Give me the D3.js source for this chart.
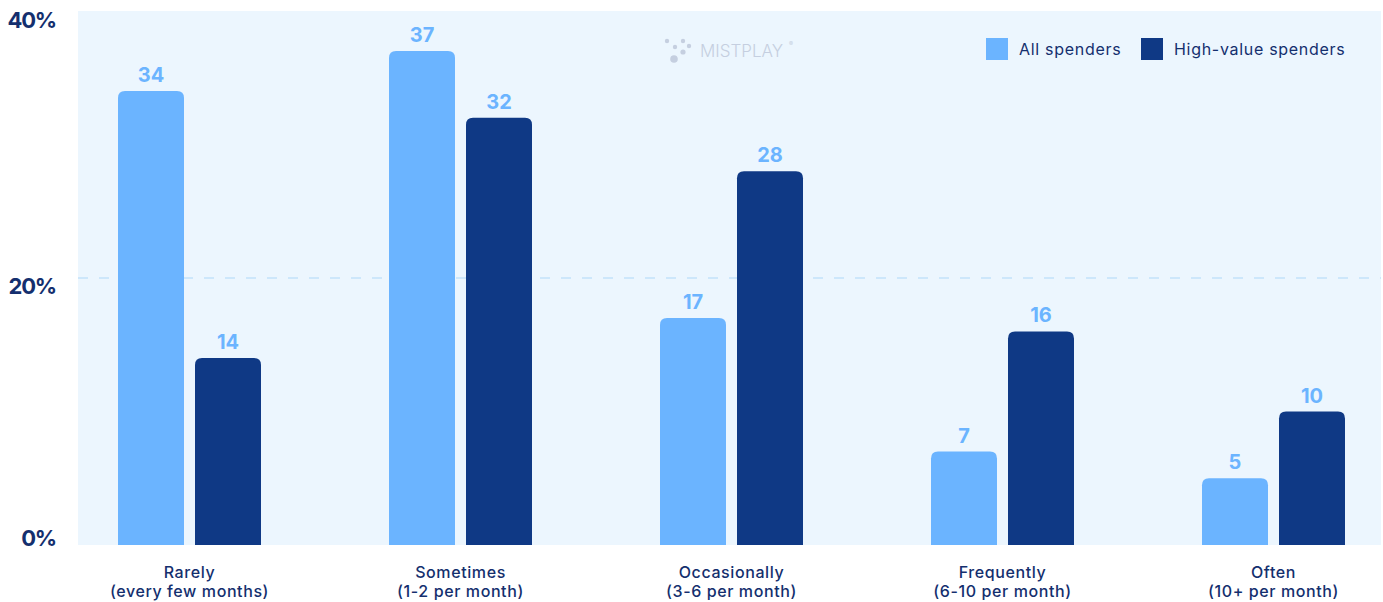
<!DOCTYPE html>
<html>
<head>
<meta charset="utf-8">
<script src="https://cdn.jsdelivr.net/npm/d3@7"></script>
<style>
  html, body { margin: 0; padding: 0; background: #ffffff; }
  svg { display: block; font-family: Inter, "Noto Sans", sans-serif; }
</style>
</head>
<body>
<svg id="chart" width="1383" height="602"></svg>
<script>
// Spending frequency categories (two-line labels)
const categories = ["Rarely", "Sometimes", "Occasionally", "Frequently", "Often"];
const categorySubLabels = ["(every few months)", "(1-2 per month)", "(3-6 per month)", "(6-10 per month)", "(10+ per month)"];

// Share of each group, percent
const seriesNames = ["All spenders", "High-value spenders"];
const allSpenders = [34, 37, 17, 7, 5];
const highValueSpenders = [14, 32, 28, 16, 10];

// Y axis ticks
const yTicks = [0, 20, 40];

const colors = { "All spenders": "#6bb4ff", "High-value spenders": "#0f3985" };
const navy = "#142f6e";

const svg = d3.select("#chart");
const plot = { left: 78, right: 1381, top: 11, bottom: 545 };

const y = d3.scaleLinear().domain([0, 40]).range([plot.bottom, plot.top]);
const x0 = d3.scalePoint().domain(categories).range([189.5, 1273.5]);
const x1 = d3.scaleBand().domain(seriesNames).range([-71.5, 71.5]).paddingInner(11 / 77).paddingOuter(0);

// Plot background
svg.append("rect")
  .attr("x", plot.left).attr("y", plot.top)
  .attr("width", plot.right - plot.left).attr("height", plot.bottom - plot.top)
  .attr("fill", "#ecf6fe");

// Dashed mid gridline
svg.append("g").selectAll("line")
  .data(yTicks.filter(t => t > 0 && t < 40))
  .join("line")
  .attr("x1", plot.left).attr("x2", plot.right)
  .attr("y1", d => y(d)).attr("y2", d => y(d))
  .attr("stroke", "#cde7fb").attr("stroke-width", 2)
  .attr("stroke-dasharray", "10 11");

// Watermark logo
const logo = svg.append("g").attr("fill", "#c5cfe0");
[[667, 41, 2.2], [683, 41, 2.2], [675, 47, 2.2], [689, 46, 2.2], [683, 52, 2.6], [674, 59, 3.8]]
  .forEach(([cx, cy, r]) => logo.append("circle").attr("cx", cx).attr("cy", cy).attr("r", r));
logo.append("text").attr("x", 700).attr("y", 57)
  .attr("font-size", 17).attr("font-weight", 300)
  .text("MISTPLAY");
logo.append("text").attr("x", 789).attr("y", 46).attr("font-size", 6).text("®");

// Y axis labels: centred slightly below their tick, clamped within the plot
const yAxis = d3.axisLeft(y).tickValues(yTicks).tickFormat(d => d + "%").tickSize(0);
const yg = svg.append("g").attr("transform", "translate(56,0)").call(yAxis);
yg.select(".domain").remove();
yg.selectAll("text")
  .attr("x", 0).attr("dy", null)
  .attr("y", d => {
    const c = Math.max(plot.top + 8, Math.min(plot.bottom - 8, y(d) + 7));
    return c - y(d) + 8;
  })
  .attr("text-anchor", "end")
  .attr("fill", navy).attr("font-size", 22).attr("font-weight", 700)
  .attr("letter-spacing", -1.2)
  .attr("font-family", "Inter, sans-serif");

// Bars with rounded tops
function topRounded(xl, yt, w, h, r) {
  r = Math.min(r, h, w / 2);
  return `M${xl},${yt + h}V${yt + r}Q${xl},${yt} ${xl + r},${yt}H${xl + w - r}Q${xl + w},${yt} ${xl + w},${yt + r}V${yt + h}Z`;
}

const rows = categories.map((c, i) => ({
  category: c,
  values: [
    { series: seriesNames[0], value: allSpenders[i] },
    { series: seriesNames[1], value: highValueSpenders[i] }
  ]
}));

const groups = svg.append("g").selectAll("g")
  .data(rows).join("g")
  .attr("transform", d => `translate(${x0(d.category)},0)`);

groups.selectAll("path")
  .data(d => d.values).join("path")
  .attr("d", d => topRounded(x1(d.series), y(d.value), x1.bandwidth(), y(0) - y(d.value), 7))
  .attr("fill", d => colors[d.series]);

groups.selectAll("text.value")
  .data(d => d.values).join("text")
  .attr("class", "value")
  .attr("x", d => x1(d.series) + x1.bandwidth() / 2)
  .attr("y", d => y(d.value) - 9)
  .attr("text-anchor", "middle")
  .attr("font-size", 20).attr("font-weight", 700)
  .attr("fill", colors["All spenders"])
  .text(d => d.value);

// Category labels
const xl = svg.append("g").selectAll("text")
  .data(categories).join("text")
  .attr("text-anchor", "middle")
  .attr("fill", navy).attr("font-size", 16).attr("font-weight", 500)
  .attr("letter-spacing", 0.6);
xl.append("tspan").attr("x", d => x0(d)).attr("y", 578).text(d => d);
xl.append("tspan").attr("x", d => x0(d)).attr("y", 597).text((d, i) => categorySubLabels[i]);

// Legend
const legendPos = [986, 1141];
const legend = svg.append("g").selectAll("g")
  .data(seriesNames).join("g")
  .attr("transform", (d, i) => `translate(${legendPos[i]},38)`);
legend.append("rect").attr("width", 22).attr("height", 22).attr("fill", d => colors[d]);
legend.append("text").attr("x", 33).attr("y", 17)
  .attr("fill", navy).attr("font-size", 16).attr("font-weight", 400)
  .attr("letter-spacing", 0.7)
  .text(d => d);
</script>
</body>
</html>
